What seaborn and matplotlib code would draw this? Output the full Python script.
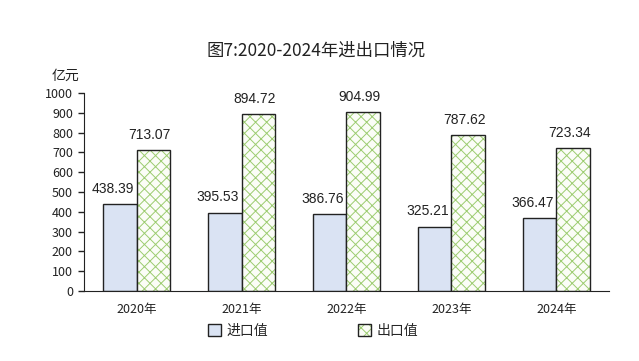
import matplotlib
matplotlib.use("Agg")
import matplotlib.pyplot as plt
import matplotlib.colors as mcolors
from matplotlib.patches import Patch
import seaborn as sns
import pandas as pd

# Datos
years = ["2020年", "2021年", "2022年", "2023年", "2024年"]
imports = [438.39, 395.53, 386.76, 325.21, 366.47]
exports = [713.07, 894.72, 904.99, 787.62, 723.34]
series = ["进口值", "出口值"]

df = pd.DataFrame({
    "year": years * 2,
    "tipo": [series[0]] * len(years) + [series[1]] * len(years),
    "valor": imports + exports,
})

sns.set_style("white")
plt.rcParams["font.family"] = ["Noto Sans CJK SC", "DejaVu Sans"]
plt.rcParams["hatch.linewidth"] = 0.7

fig = plt.figure(figsize=(6.39, 3.61), dpi=100)
ax = fig.add_axes([0.1315, 0.194, 0.8215, 0.548])

ax = sns.barplot(data=df, x="year", y="valor", hue="tipo", ax=ax,
                 palette=["#dae3f3", "#fbfdf7"], saturation=1, width=0.64, gap=0,
                 edgecolor="#222222", linewidth=1.0, legend=False)

verde = mcolors.to_rgba("#9ccc70")
for p in ax.containers[1]:
    p.set_hatch("xxx")
    p._hatch_color = verde

# Etiquetas de valores (ligeramente desplazadas a la izquierda, como en el original)
desplaz = [-5, -3]
for i, cont in enumerate(ax.containers):
    for bar in cont:
        v = bar.get_height()
        ax.annotate(f"{v:.2f}", (bar.get_x() + bar.get_width() / 2, v),
                    xytext=(desplaz[i], 6), textcoords="offset points",
                    ha="center", va="bottom", fontsize=10, color="#222222",
                    family="Liberation Sans")

ax.set_xlim(-0.5, 4.5)
ax.set_ylim(0, 1000)
ax.set_yticks(range(0, 1001, 100))
ax.set_xlabel("")
ax.set_ylabel("")
for s in ["top", "right"]:
    ax.spines[s].set_visible(False)
ax.spines["left"].set_color("#222222")
ax.spines["bottom"].set_color("#222222")
ax.tick_params(axis="y", left=True, length=4, width=1, labelsize=9, pad=4, colors="#222222")
ax.tick_params(axis="x", bottom=False, labelsize=9, pad=5, colors="#222222")

fig.text(0.102, 0.79, "亿元", fontsize=10, ha="center", va="center", color="#222222")
fig.suptitle("图7:2020-2024年进出口情况", x=0.495, y=0.885, fontsize=12.5, color="#222222")

# Leyenda
h1 = Patch(facecolor="#dae3f3", edgecolor="#222222", linewidth=1)
h2 = Patch(facecolor="#fbfdf7", edgecolor="#222222", linewidth=1, hatch="xxx")
h2._hatch_color = verde
fig.legend([h1, h2], series, loc="center", bbox_to_anchor=(0.49, 0.083), ncol=2,
           frameon=False, fontsize=10, handlelength=0.9, handleheight=0.9,
           columnspacing=6.5, handletextpad=0.4)

plt.savefig("out.png", dpi=100)
plt.close()
